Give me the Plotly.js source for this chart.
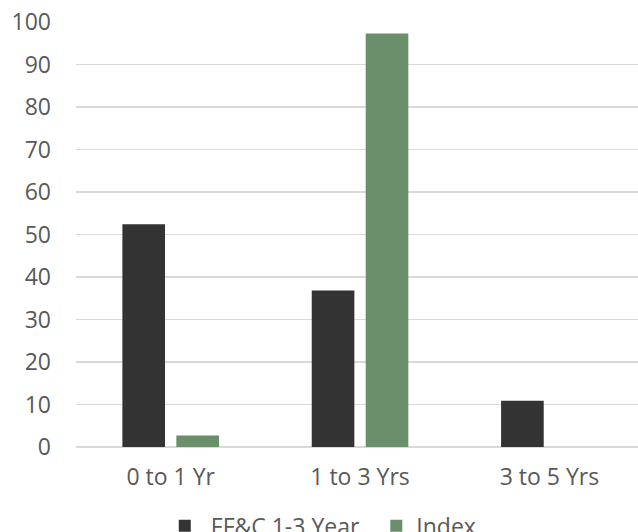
<!DOCTYPE html>
<html>
<head>
<meta charset="utf-8">
<script src="https://cdn.plot.ly/plotly-3.0.1.min.js"></script>
<style>
  html, body { margin: 0; padding: 0; background: #fff; }
  #chart { width: 638px; height: 532px; }
</style>
</head>
<body>
<div id="chart"></div>
<script>
// Maturity buckets and allocation (%) for the fund vs. its index
const categories = ["0 to 1 Yr", "1 to 3 Yrs", "3 to 5 Yrs"];
const fundName = "FF&C 1-3 Year";
const fundValues = [52.4, 36.8, 10.9];
const indexName = "Index";
const indexValues = [2.7, 97.3, 0];
const yTicks = [0, 10, 20, 30, 40, 50, 60, 70, 80, 90, 100];

const textColor = "#595959";
const font = { family: "Open Sans, sans-serif", size: 23, color: textColor };

const traces = [
  {
    type: "bar",
    name: "&nbsp;" + fundName + "&nbsp;&nbsp;",
    x: categories,
    y: fundValues,
    marker: { color: "#333333", line: { width: 0 } },
    hoverinfo: "skip"
  },
  {
    type: "bar",
    name: indexName,
    x: categories,
    y: indexValues,
    marker: { color: "#6b8e6b", line: { width: 0 } },
    hoverinfo: "skip"
  }
];

const layout = {
  width: 638,
  height: 532,
  margin: { l: 76, r: 0, t: 22, b: 85, pad: 0, autoexpand: false },
  paper_bgcolor: "#ffffff",
  plot_bgcolor: "#ffffff",
  font: font,
  barmode: "group",
  bargap: 0.43,
  bargroupgap: 0.21,
  showlegend: true,
  legend: {
    orientation: "h",
    x: 0.44,
    xanchor: "center",
    y: -0.135,
    yanchor: "top",
    font: font,
    itemwidth: 30,
    traceorder: "normal"
  },
  xaxis: {
    type: "category",
    range: [-0.5, 2.468],
    showgrid: false,
    zeroline: false,
    showline: false,
    ticks: "",
    tickfont: font,
    ticklabelstandoff: 14,
    fixedrange: true
  },
  yaxis: {
    range: [0, 100],
    tickvals: yTicks,
    ticktext: yTicks.map(String),
    showgrid: true,
    gridcolor: "#d9d9d9",
    gridwidth: 1.4,
    zeroline: true,
    zerolinecolor: "#d9d9d9",
    zerolinewidth: 1.4,
    showline: false,
    ticks: "",
    tickfont: font,
    ticklabelstandoff: 24,
    fixedrange: true
  }
};

Plotly.newPlot("chart", traces, layout, { displayModeBar: false, staticPlot: true });
</script>
</body>
</html>
